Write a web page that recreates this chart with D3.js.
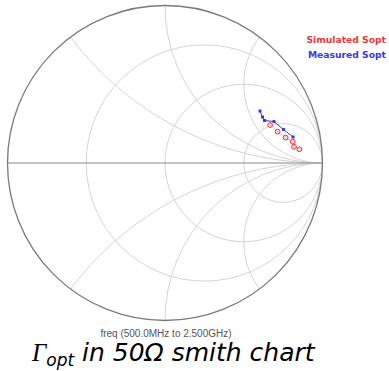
<!DOCTYPE html>
<html>
<head>
<meta charset="utf-8">
<script src="https://cdn.jsdelivr.net/npm/d3@7"></script>
<style>
  body { margin: 0; background: #fff; }
  svg { display: block; }
</style>
</head>
<body>
<div id="chart"></div>
<script>
// grid values of the smith chart
var resistances = [1 / 3, 1, 3];
var reactances = [0.5, 1, 2, -0.5, -1, -2];

// reflection coefficient (re, im), 500MHz .. 2.5GHz
var simRe = [0.667, 0.715, 0.766, 0.811, 0.819, 0.853];
var simIm = [0.241, 0.199, 0.161, 0.135, 0.103, 0.087];
var measRe = [0.603, 0.619, 0.632, 0.692, 0.752, 0.813];
var measIm = [0.330, 0.292, 0.270, 0.263, 0.213, 0.165];

var legendNames = ["Simulated Sopt", "Measured Sopt"];
var legendColors = ["#e8383d", "#3a3ad8"];

var W = 389, H = 371;
var cx = 165, cy = 163, R = 157.5;

var svg = d3.select("#chart").append("svg")
  .attr("width", W)
  .attr("height", H);

var x = d3.scaleLinear().domain([-1, 1]).range([cx - R, cx + R]);
var y = d3.scaleLinear().domain([-1, 1]).range([cy + R, cy - R]);
var k = R; // unit length in px

svg.append("clipPath").attr("id", "unit")
  .append("circle")
  .attr("cx", x(0)).attr("cy", y(0)).attr("r", k);

var grid = svg.append("g").attr("clip-path", "url(#unit)");

// constant resistance circles
grid.selectAll("circle.r")
  .data(resistances)
  .enter().append("circle")
  .attr("class", "r")
  .attr("cx", function(r){ return x(r / (1 + r)); })
  .attr("cy", y(0))
  .attr("r", function(r){ return k / (1 + r); })
  .style("fill", "none")
  .style("stroke", "#d4d4d4")
  .style("stroke-width", 1);

// constant reactance arcs
grid.selectAll("circle.x")
  .data(reactances)
  .enter().append("circle")
  .attr("class", "x")
  .attr("cx", x(1))
  .attr("cy", function(v){ return y(1 / v); })
  .attr("r", function(v){ return k / Math.abs(v); })
  .style("fill", "none")
  .style("stroke", "#d4d4d4")
  .style("stroke-width", 1);

// real axis
svg.append("line")
  .attr("x1", x(-1)).attr("x2", x(1))
  .attr("y1", y(0)).attr("y2", y(0))
  .style("stroke", "#8a8a8a")
  .style("stroke-width", 1.2);

// outer circle
svg.append("circle")
  .attr("cx", x(0)).attr("cy", y(0)).attr("r", k)
  .style("fill", "none")
  .style("stroke", "#7a7a7a")
  .style("stroke-width", 1.3);

var sim = simRe.map(function(v, i){ return [v, simIm[i]]; });
var meas = measRe.map(function(v, i){ return [v, measIm[i]]; });

var line = d3.line()
  .x(function(d){ return x(d[0]); })
  .y(function(d){ return y(d[1]); });

svg.append("path")
  .datum(sim)
  .attr("d", line)
  .style("fill", "none")
  .style("stroke", "#f0a0a0")
  .style("stroke-width", 0.8);

svg.selectAll("circle.sim")
  .data(sim)
  .enter().append("circle")
  .attr("class", "sim")
  .attr("cx", function(d){ return x(d[0]); })
  .attr("cy", function(d){ return y(d[1]); })
  .attr("r", 2.4)
  .style("fill", "#fbd0d0")
  .style("stroke", legendColors[0])
  .style("stroke-width", 1);

svg.append("path")
  .datum(meas)
  .attr("d", line)
  .style("fill", "none")
  .style("stroke", legendColors[1])
  .style("stroke-width", 1);

svg.selectAll("rect.meas")
  .data(meas)
  .enter().append("rect")
  .attr("class", "meas")
  .attr("x", function(d){ return x(d[0]) - 1.5; })
  .attr("y", function(d){ return y(d[1]) - 1.5; })
  .attr("width", 3)
  .attr("height", 3)
  .style("fill", legendColors[1]);

// legend
svg.selectAll("text.leg")
  .data(legendNames)
  .enter().append("text")
  .attr("class", "leg")
  .attr("x", 386)
  .attr("y", function(d, i){ return 43 + i * 15; })
  .attr("text-anchor", "end")
  .style("font-family", "DejaVu Sans, sans-serif")
  .style("font-size", "9.2px")
  .style("font-weight", "bold")
  .style("fill", function(d, i){ return legendColors[i]; })
  .text(function(d){ return d; });

// sweep label
svg.append("text")
  .attr("x", 166)
  .attr("y", 337)
  .attr("text-anchor", "middle")
  .style("font-family", "Liberation Sans, Arial, sans-serif")
  .style("font-size", "10px")
  .style("fill", "#555")
  .text("freq (500.0MHz to 2.500GHz)");

// caption
var cap = svg.append("text")
  .attr("x", 32)
  .attr("y", 361)
  .style("font-size", "25px")
  .style("fill", "#000");
cap.append("tspan")
  .style("font-family", "Liberation Serif, serif")
  .style("font-style", "italic")
  .text("\u0393");
cap.append("tspan")
  .attr("dy", 5)
  .style("font-family", "DejaVu Sans, sans-serif")
  .style("font-style", "oblique")
  .style("font-size", "17px")
  .text("opt");
cap.append("tspan")
  .attr("dy", -5)
  .style("font-family", "DejaVu Sans, sans-serif")
  .style("font-style", "oblique")
  .text(" in 50\u03a9 smith chart");
</script>
</body>
</html>
